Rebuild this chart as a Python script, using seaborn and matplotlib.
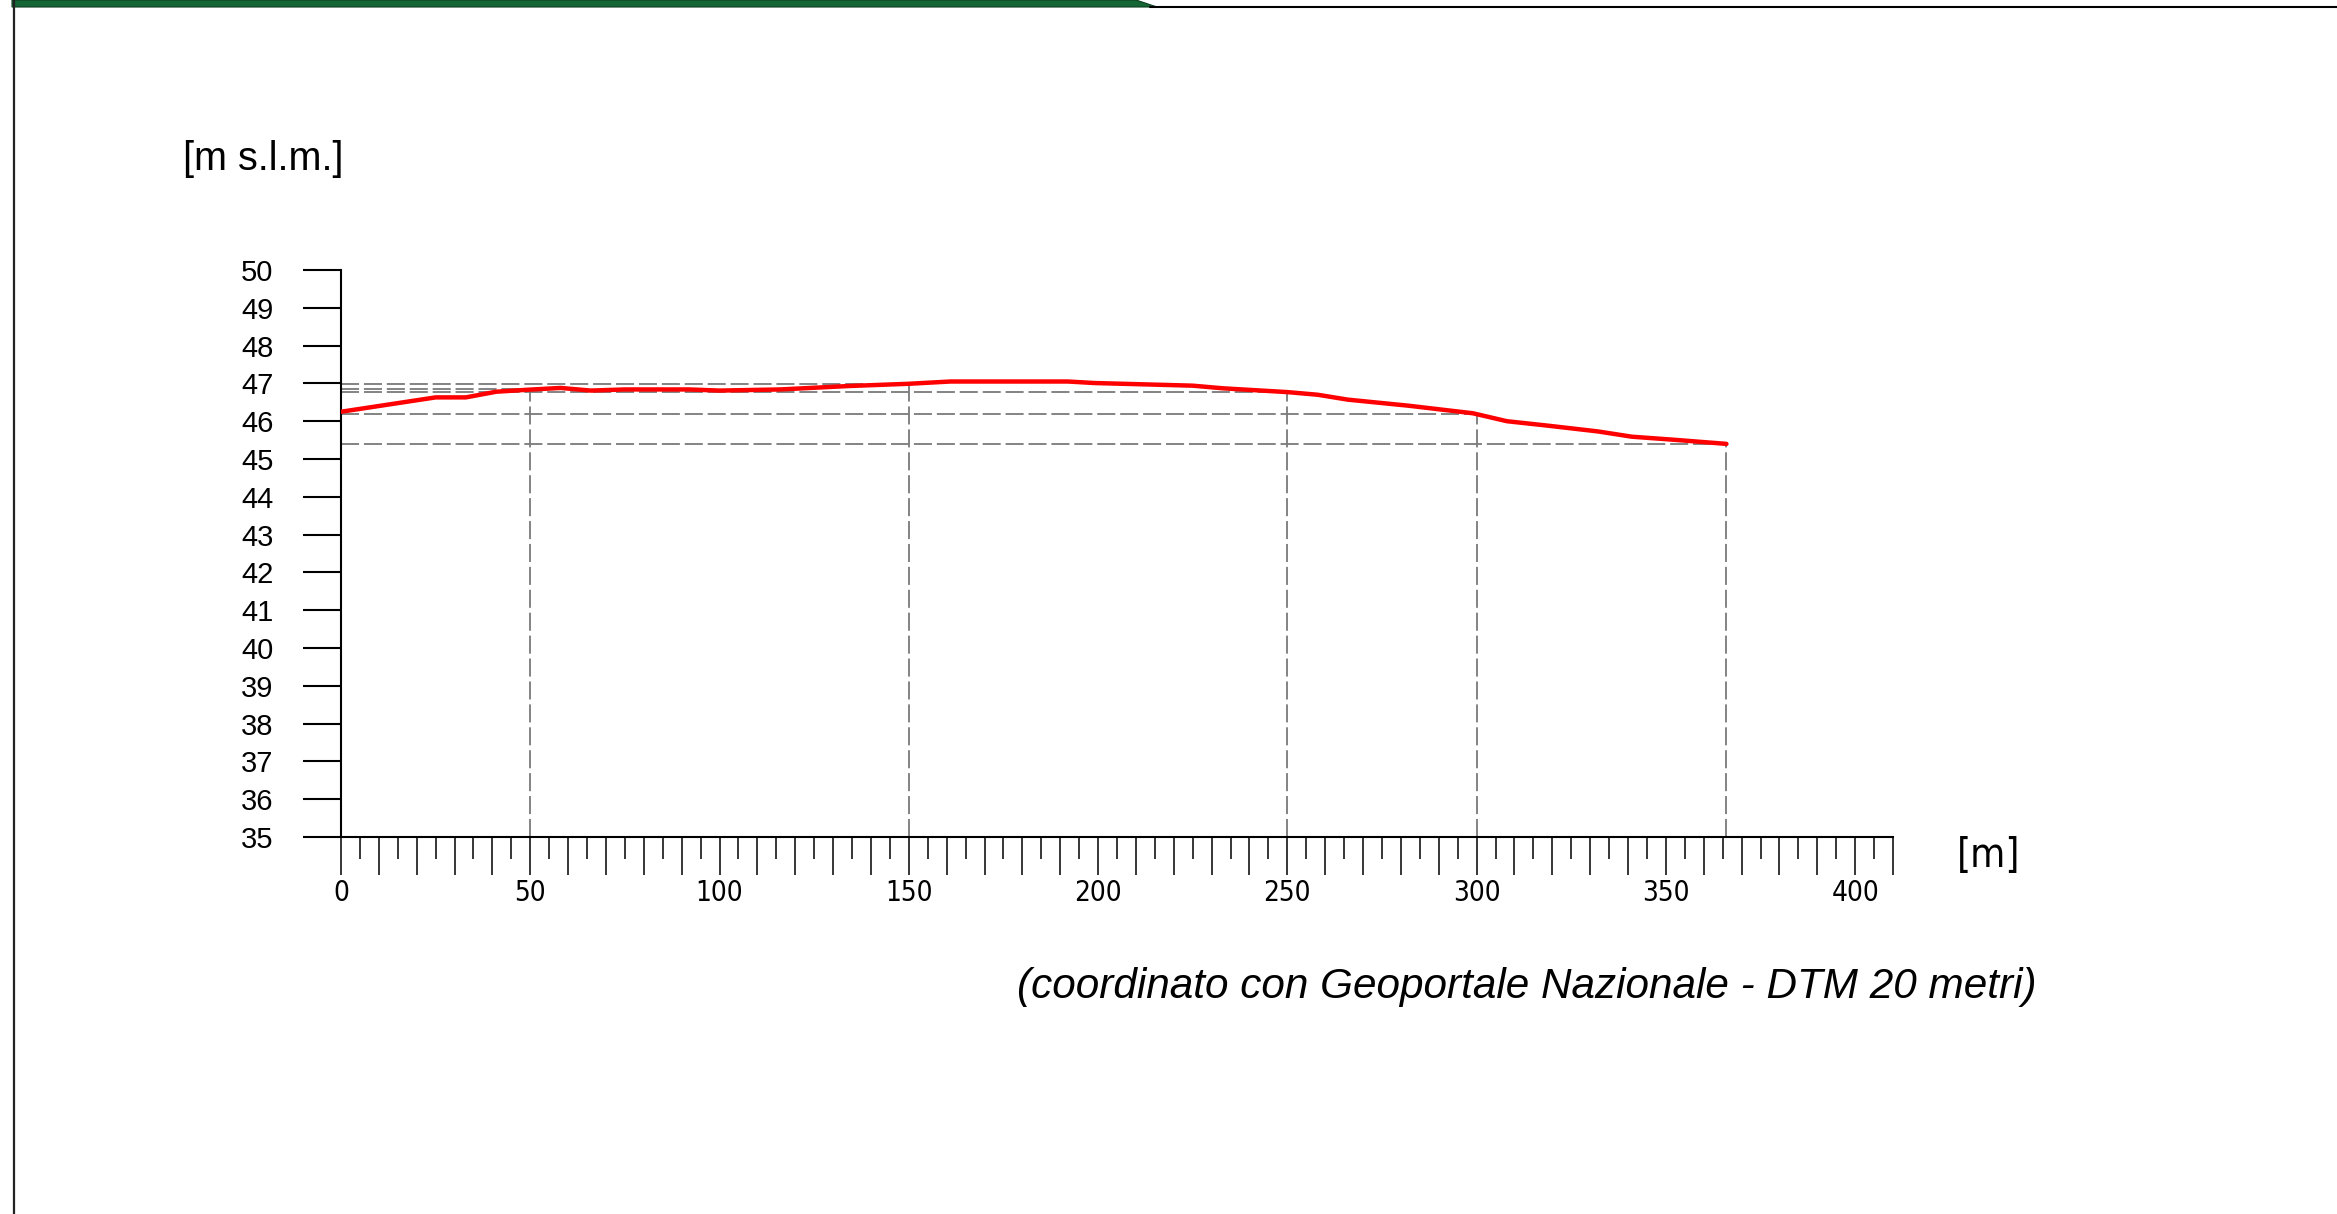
import matplotlib
matplotlib.use("Agg")
import matplotlib.pyplot as plt
import seaborn as sns
from matplotlib import font_manager
from matplotlib.patches import Polygon
from matplotlib.lines import Line2D
from matplotlib.ticker import MultipleLocator, FuncFormatter

# Terrain profile (distance [m], elevation [m s.l.m.])
dist = [0, 25, 33, 41, 49, 58, 66, 75, 92, 100, 116, 124, 134, 150, 161,
        167, 192, 199, 225, 233, 250, 258, 266, 282, 299, 308, 319, 332,
        341, 352, 366]
elev = [46.25, 46.63, 46.63, 46.78, 46.83, 46.88, 46.81, 46.84, 46.84,
        46.81, 46.84, 46.88, 46.93, 46.99, 47.05, 47.05, 47.05, 47.01,
        46.94, 46.87, 46.77, 46.70, 46.57, 46.41, 46.21, 46.00, 45.88,
        45.73, 45.59, 45.51, 45.40]

# Reference points with dashed guides
mark_dist = [50, 150, 250, 300, 366]
mark_elev = [46.84, 46.99, 46.77, 46.19, 45.40]

y_ticks = list(range(35, 51))
x_label_step = 50

sns.set_style("white")
plt.rcParams["font.family"] = ["Liberation Sans", "DejaVu Sans"]
plt.rcParams["lines.scale_dashes"] = False
for k in ["text.color", "axes.labelcolor", "xtick.color", "ytick.color"]:
    plt.rcParams[k] = "black"

# look for a narrow sans face for the x scale
narrow_font = None
for f in font_manager.fontManager.ttflist:
    if f.style != "normal" or f.weight not in (400, "normal", "regular"):
        continue
    if "Narrow" in f.name or "Condensed" in f.name or f.stretch in ("condensed", "semi-condensed"):
        if "Mono" in f.name or "Serif" in f.name:
            continue
        narrow_font = f
        break

if narrow_font is not None:
    narrow_props = dict(fname=narrow_font.fname)
    x_size, m_size = 20, 29
else:
    narrow_props = dict(family=["Liberation Sans", "DejaVu Sans"])
    x_size, m_size = 20, 28


def narrow_fp(size):
    return font_manager.FontProperties(size=size, **narrow_props)


W, H = 2337, 1214
fig = plt.figure(figsize=(W / 100, H / 100), dpi=100)
fig.patch.set_facecolor("white")

# page frame: green band, top rule, left rule
px = lambda x: x / W
py = lambda y: 1 - y / H
fig.add_artist(Polygon([(px(12), py(0)), (px(1136), py(0)), (px(1157), py(7)), (px(12), py(7))],
                       closed=True, transform=fig.transFigure, facecolor="#146634",
                       edgecolor="#0d3d20", lw=0.8))
fig.add_artist(Line2D([px(1150), px(W)], [py(6.5), py(6.5)], transform=fig.transFigure,
                      color="black", lw=1.5))
fig.add_artist(Line2D([px(13.5), px(13.5)], [0, 1], transform=fig.transFigure,
                      color="#222222", lw=1.6))

ax = fig.add_axes([341 / W, 1 - 837 / H, (1893 - 341) / W, (837 - 270) / H])

# dashed guides
for d, e in zip(mark_dist, mark_elev):
    ax.plot([0, d], [e, e], color="#7a7a7a", lw=1.3, dashes=(13, 3.5), zorder=1)
    ax.plot([d, d], [35, e], color="#7a7a7a", lw=1.3, dashes=(13, 3.5), zorder=1)

sns.lineplot(x=dist, y=elev, ax=ax, color="#ff0000", linewidth=3.2, zorder=3)

ax.set_xlim(0, 410)
ax.set_ylim(35, 50)
ax.set_xlabel("")
ax.set_ylabel("")

for s in ["top", "right"]:
    ax.spines[s].set_visible(False)
for s in ["left", "bottom"]:
    ax.spines[s].set_color("black")
    ax.spines[s].set_linewidth(1.5)

ax.set_yticks(y_ticks)
ax.tick_params(axis="y", direction="out", length=27.5, width=1.5, pad=21,
               labelsize=21, color="black", labelcolor="black", left=True)
ax.xaxis.set_major_locator(MultipleLocator(10))
ax.xaxis.set_minor_locator(MultipleLocator(5))
ax.xaxis.set_major_formatter(FuncFormatter(lambda v, p: f"{int(round(v))}" if round(v) % x_label_step == 0 else ""))
ax.tick_params(axis="x", which="major", direction="out", length=27, width=1.1,
               pad=3, color="black", labelcolor="black", bottom=True)
ax.tick_params(axis="x", which="minor", direction="out", length=16, width=1.1,
               color="black", bottom=True)
for lab in ax.get_xticklabels():
    lab.set_fontproperties(narrow_fp(x_size))

fig.text(183 / W, 1 - 159 / H, "[m s.l.m.]", fontsize=28.5, ha="left", va="center")
fig.text(1957 / W, 1 - 856 / H, "[m]", ha="left", va="center", fontproperties=narrow_fp(m_size))
fig.text(1017 / W, 1 - 987 / H, "(coordinato con Geoportale Nazionale - DTM 20 metri)",
         fontsize=30.4, style="italic", ha="left", va="center")

fig.savefig("out.png", dpi=100)
